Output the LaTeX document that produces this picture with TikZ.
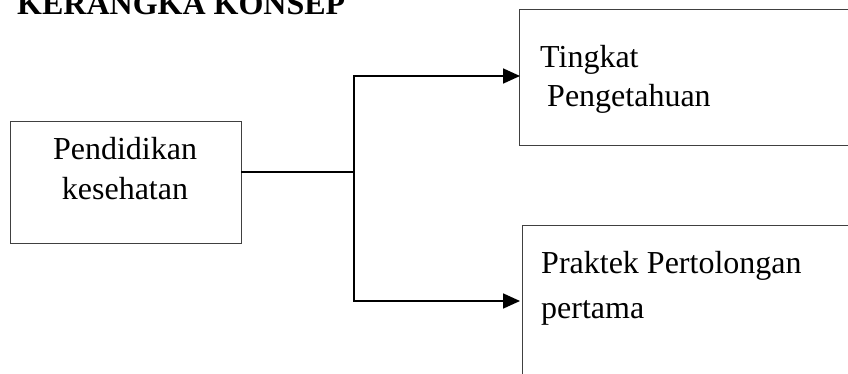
\documentclass[tikz,border=0pt]{standalone}
\usepackage{fontspec}
\setmainfont{Liberation Serif}
\usetikzlibrary{arrows.meta}
\tikzset{
  box/.style={draw=black!75, line width=0.9pt, rectangle, anchor=north west, inner sep=0pt},
  txt/.style={anchor=base west, inner sep=0pt, font=\fontsize{32}{38}\selectfont},
  ctxt/.style={anchor=base, inner sep=0pt, font=\fontsize{32}{38}\selectfont},
  link/.style={line width=1.8pt, black},
  tip/.style={-{Triangle[length=17pt,width=15pt]}}
}
\begin{document}
\begin{tikzpicture}[x=1pt,y=-1pt]
  \useasboundingbox (0,0) rectangle (848,374);
  \clip (0,0) rectangle (848,374);
  % heading
  \node[anchor=base west, inner sep=0pt, font=\fontsize{32}{38}\selectfont\bfseries] (title) at (17,15) {KERANGKA KONSEP};
  % boxes
  \node[box, minimum width=231pt, minimum height=122pt] (edu) at (10,121) {};
  \node[box, minimum width=360pt, minimum height=136pt] (know) at (519,9) {};
  \node[box, minimum width=360pt, minimum height=180pt] (aid) at (522,225) {};
  % box texts
  \node[ctxt] (edu1) at (125,160) {Pendidikan};
  \node[ctxt] (edu2) at (125,200) {kesehatan};
  \node[txt] (know1) at (540,68) {Tingkat};
  \node[txt] (know2) at (547,107) {Pengetahuan};
  \node[txt] (aid1) at (541,273) {Praktek Pertolongan};
  \node[txt] (aid2) at (541,318) {pertama};
  % connectors
  \coordinate (out) at (241,172);
  \coordinate (split) at (354,172);
  \coordinate (in1) at (520,76);
  \coordinate (in2) at (520,301);
  \draw[link] (out) -- (split);
  \draw[link, tip] (split) |- (in1);
  \draw[link, tip] (split) |- (in2);
\end{tikzpicture}
\end{document}
